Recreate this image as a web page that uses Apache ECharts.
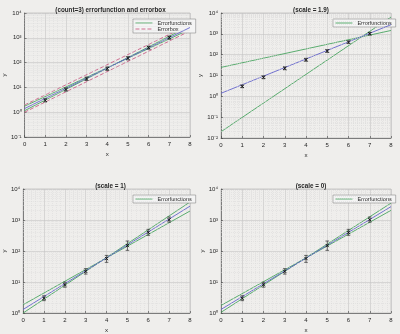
<!DOCTYPE html>
<html><head><meta charset="utf-8">
<script src="https://cdn.jsdelivr.net/npm/echarts/dist/echarts.min.js"></script>
<style>html,body{margin:0;padding:0;background:#efeeec}#c{width:400px;height:334px}</style>
</head><body><div id="c"></div>
<script>
// ---- data ----
const titles = ['(count=3) errorfunction and errorbox', '(scale = 1.9)', '(scale = 1)', '(scale = 0)'];
const xTicks = [0, 1, 2, 3, 4, 5, 6, 7, 8];
const yMins = [0.1, 0.01, 1, 1];
const yMax = 10000;
const ptX = [1, 2, 3, 4, 5, 6, 7];
const ptY = [3.0, 8.2, 22, 57, 150, 400, 1020];
const errLoA = [2.6, 7.0, 19, 48, 128, 345, 870];
const errHiA = [3.5, 9.6, 26, 67, 175, 465, 1180];
const errLoB = [2.5, 6.8, 18, 43, 105, 320, 850];
const errHiB = [3.6, 9.9, 27, 72, 210, 500, 1250];
const lineX = [0, 8];
// fit lines (y at x=0 and x=8)
const fit1 = [1.4, 2600];
const fit2 = [1.4, 2750];
const fit3 = [1.3, 2800];
const fit4 = [1.3, 2700];
// error function lines
const green1a = [1.15, 3100];
const green1b = [1.75, 2200];
const green2a = [24.5, 1450];
const green2b = [0.02, 6400];
const green3a = [1.0, 3800];
const green3b = [1.85, 1950];
const green4a = [1.05, 3500];
const green4b = [1.75, 2050];
// error box lines
const red1a = [1.95, 3500];
const red1b = [1.0, 1900];

// ---- styling ----
const GREEN = '#4aa561', BLUE = '#6464cc', RED = '#c85f85', TXT = '#262626';
const FONT = 'Liberation Sans';
const panels = [
  {grid: {left: 21, top: 13, width: 169, height: 124}, fit: fit1, greens: [green1a, green1b], reds: [red1a, red1b], lo: errLoA, hi: errHiA, legend: {left: 133, top: 19}, legendData: ['Errorfunctions', 'Errorbox']},
  {grid: {left: 221, top: 13, width: 170, height: 125}, fit: fit2, greens: [green2a, green2b], reds: [], lo: errLoA, hi: errHiA, legend: {left: 333, top: 19}, legendData: ['Errorfunctions']},
  {grid: {left: 21, top: 189, width: 169, height: 124}, fit: fit3, greens: [green3a, green3b], reds: [], lo: errLoB, hi: errHiB, legend: {left: 133, top: 195}, legendData: ['Errorfunctions']},
  {grid: {left: 221, top: 189, width: 170, height: 124}, fit: fit4, greens: [green4a, green4b], reds: [], lo: errLoB, hi: errHiB, legend: {left: 333, top: 195}, legendData: ['Errorfunctions']}
];
const SUP = {'0': '⁰', '1': '¹', '2': '²', '3': '³', '4': '⁴', '5': '⁵', '6': '⁶', '7': '⁷', '8': '⁸', '9': '⁹', '-': '⁻'};
function fmtLog(v) {
  const e = String(Math.round(Math.log10(v)));
  return '10' + e.split('').map(c => SUP[c]).join('');
}
function minorVals(min) {
  const out = [];
  for (let d = min; d < yMax; d *= 10) for (let k = 2; k <= 9; k++) out.push({yAxis: +(d * k).toPrecision(3)});
  return out;
}
const grids = [], xAxes = [], yAxes = [], series = [], titleArr = [], legends = [];
panels.forEach((p, i) => {
  grids.push(Object.assign({show: true, borderColor: '#b0b0b0', borderWidth: 0.6, backgroundColor: 'transparent'}, p.grid));
  titleArr.push({text: titles[i], left: p.grid.left + p.grid.width / 2, top: p.grid.top - 11, textAlign: 'center',
    textStyle: {fontFamily: FONT, fontSize: 6.3, fontWeight: 'bold', color: TXT}});
  legends.push({data: p.legendData, left: p.legend.left, top: p.legend.top, orient: 'vertical', itemGap: 0,
    itemWidth: 17, itemHeight: 6, padding: [1, 4, 1, 2], borderColor: '#8a8a8a', borderWidth: 0.6, backgroundColor: '#f4f4f4',
    itemStyle: {opacity: 0, borderWidth: 0}, lineStyle: {width: 0.9},
    textStyle: {fontFamily: FONT, fontSize: 5.5, color: TXT}, selectedMode: false});
  xAxes.push({gridIndex: i, type: 'value', min: xTicks[0], max: xTicks[xTicks.length - 1], interval: 1,
    name: 'x', nameLocation: 'middle', nameGap: 14, nameTextStyle: {fontFamily: FONT, fontSize: 6.2, color: TXT},
    axisLine: {lineStyle: {color: '#444', width: 0.6}}, axisTick: {inside: true, length: 2, lineStyle: {color: '#444', width: 0.6}},
    axisLabel: {fontFamily: FONT, fontSize: 6, color: TXT, margin: 4},
    splitLine: {show: true, lineStyle: {color: '#c4c4c4', width: 0.6}},
    minorTick: {show: false, splitNumber: 5},
    minorSplitLine: {show: true, lineStyle: {color: '#d8d8d8', width: 0.5, type: [1, 1]}}});
  yAxes.push({gridIndex: i, type: 'log', logBase: 10, min: yMins[i], max: yMax,
    splitNumber: Math.round(Math.log10(yMax / yMins[i])),
    name: 'y', nameLocation: 'middle', nameGap: 15, nameTextStyle: {fontFamily: FONT, fontSize: 6.2, color: TXT},
    axisLine: {show: true, lineStyle: {color: '#444', width: 0.6}}, axisTick: {show: true, inside: true, length: 2, lineStyle: {color: '#444', width: 0.6}},
    axisLabel: {fontFamily: FONT, fontSize: 6, color: TXT, margin: 3, formatter: fmtLog},
    splitLine: {show: true, lineStyle: {color: '#c4c4c4', width: 0.6}}});
  // minor horizontal grid
  series.push({type: 'line', xAxisIndex: i, yAxisIndex: i, data: [], z: 1, silent: true,
    markLine: {silent: true, symbol: ['none', 'none'], label: {show: false}, animation: false,
      lineStyle: {color: '#d8d8d8', width: 0.5, type: [1, 1]}, emphasis: {disabled: true}, data: minorVals(yMins[i])}});
  p.greens.forEach(g => series.push({name: 'Errorfunctions', type: 'line', xAxisIndex: i, yAxisIndex: i, symbol: 'none', z: 3,
    lineStyle: {color: GREEN, width: 0.9}, itemStyle: {color: GREEN}, data: lineX.map((x, k) => [x, g[k]])}));
  p.reds.forEach(r => series.push({name: 'Errorbox', type: 'line', xAxisIndex: i, yAxisIndex: i, symbol: 'none', z: 3,
    lineStyle: {color: RED, width: 0.9, type: [4, 2]}, itemStyle: {color: RED}, data: lineX.map((x, k) => [x, r[k]])}));
  series.push({type: 'line', xAxisIndex: i, yAxisIndex: i, symbol: 'none', z: 4,
    lineStyle: {color: BLUE, width: 0.9}, data: lineX.map((x, k) => [x, p.fit[k]])});
  series.push({type: 'custom', xAxisIndex: i, yAxisIndex: i, z: 5,
    data: ptX.map((x, k) => [x, ptY[k], p.lo[k], p.hi[k]]),
    encode: {x: 0, y: [1, 2, 3]},
    renderItem: (params, api) => {
      const c = api.coord([api.value(0), api.value(1)]);
      const lo = api.coord([api.value(0), api.value(2)]);
      const hi = api.coord([api.value(0), api.value(3)]);
      const st = {stroke: '#303030', lineWidth: 0.7};
      const m = 1.6, cw = 1.8;
      return {type: 'group', children: [
        {type: 'line', shape: {x1: lo[0], y1: lo[1], x2: hi[0], y2: hi[1]}, style: st},
        {type: 'line', shape: {x1: lo[0] - cw, y1: lo[1], x2: lo[0] + cw, y2: lo[1]}, style: st},
        {type: 'line', shape: {x1: hi[0] - cw, y1: hi[1], x2: hi[0] + cw, y2: hi[1]}, style: st},
        {type: 'line', shape: {x1: c[0] - m, y1: c[1] - m, x2: c[0] + m, y2: c[1] + m}, style: {stroke: '#111', lineWidth: 0.9}},
        {type: 'line', shape: {x1: c[0] - m, y1: c[1] + m, x2: c[0] + m, y2: c[1] - m}, style: {stroke: '#111', lineWidth: 0.9}}
      ]};
    }});
});
const chart = echarts.init(document.getElementById('c'));
chart.setOption({backgroundColor: '#efeeec', animation: false, title: titleArr, legend: legends,
  grid: grids, xAxis: xAxes, yAxis: yAxes, series: series});
</script></body></html>
